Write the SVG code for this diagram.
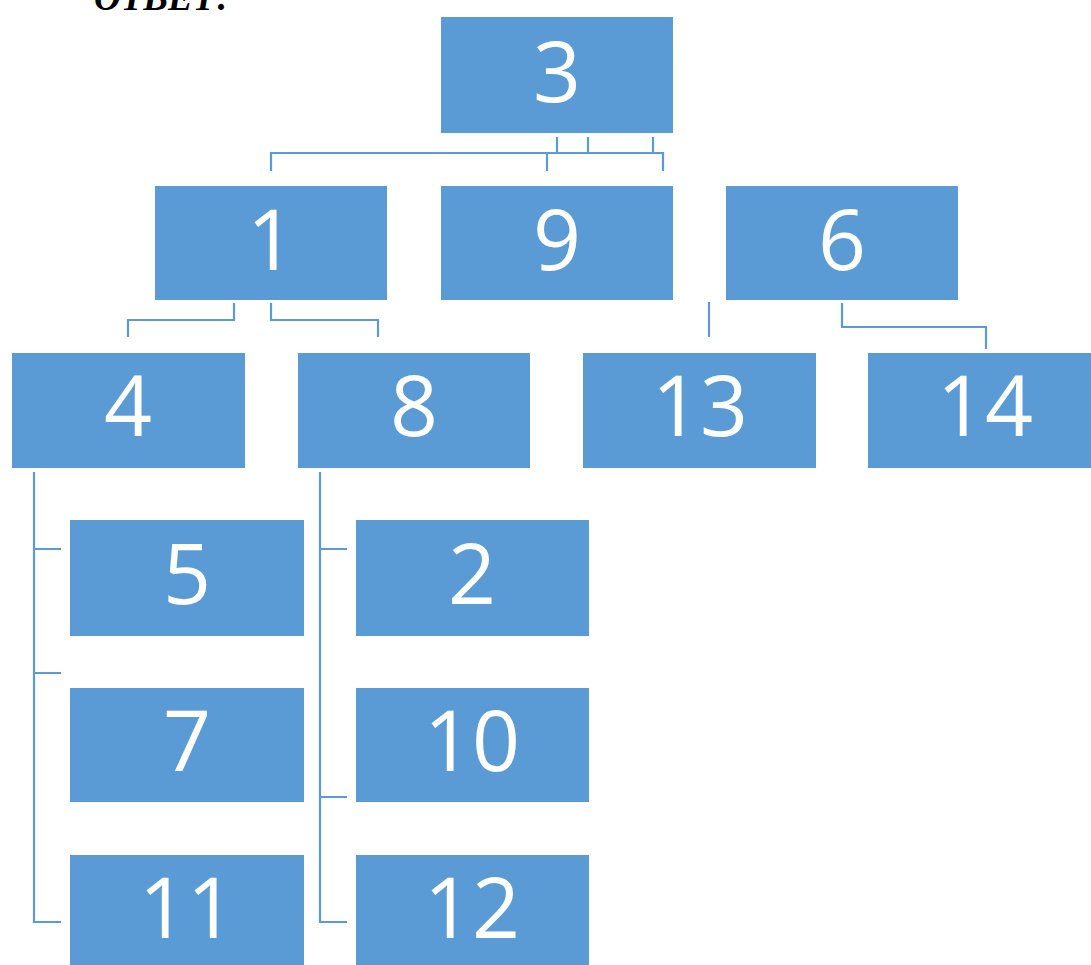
<svg xmlns="http://www.w3.org/2000/svg" width="1091" height="965" viewBox="0 0 1091 965">
<style>
.box{fill:#5b9bd5}
.lbl{fill:#fff;font-family:"Open Sans","Liberation Sans",sans-serif;font-size:84px;text-anchor:middle}
.con{fill:none;stroke:#5b9bd5;stroke-width:2.2}
.title{font-family:"Liberation Serif",serif;font-weight:bold;font-style:italic;font-size:37px;fill:#000}
</style>
<rect width="1091" height="965" fill="#fff"/>
<text class="title" x="94" y="10">ОТВЕТ:</text>
<g id="connectors">
<path class="con" d="M557 137V153M588 137V153M653 137V153M271 171V153H663V171M547 153V171"/>
<path class="con" d="M234 303V320H128V337M271 303V320H378V337"/>
<path class="con" d="M709 302V337M842 303V327H986V349"/>
<path class="con" d="M34 472V922H61M34 549H61M34 673H61"/>
<path class="con" d="M320 472V922H347M320 549H347M320 797H347"/>
</g>
<g id="n3"><rect class="box" x="441" y="17" width="232" height="116"/><text class="lbl" x="557" y="102">3</text></g>
<g id="n1"><rect class="box" x="155" y="186" width="232" height="114"/><text class="lbl" x="271" y="270">1</text></g>
<g id="n9"><rect class="box" x="441" y="186" width="232" height="114"/><text class="lbl" x="557" y="270">9</text></g>
<g id="n6"><rect class="box" x="726" y="186" width="232" height="114"/><text class="lbl" x="842" y="270">6</text></g>
<g id="n4"><rect class="box" x="12" y="353" width="233" height="115"/><text class="lbl" x="128" y="436">4</text></g>
<g id="n8"><rect class="box" x="298" y="353" width="232" height="115"/><text class="lbl" x="414" y="436">8</text></g>
<g id="n13"><rect class="box" x="583" y="353" width="233" height="115"/><text class="lbl" x="700" y="436">13</text></g>
<g id="n14"><rect class="box" x="868" y="353" width="230" height="115"/><text class="lbl" x="985" y="436">14</text></g>
<g id="n5"><rect class="box" x="70" y="520" width="234" height="116"/><text class="lbl" x="187" y="604">5</text></g>
<g id="n2"><rect class="box" x="356" y="520" width="233" height="116"/><text class="lbl" x="472" y="604">2</text></g>
<g id="n7"><rect class="box" x="70" y="688" width="234" height="114"/><text class="lbl" x="187" y="771">7</text></g>
<g id="n10"><rect class="box" x="356" y="688" width="233" height="114"/><text class="lbl" x="472" y="771">10</text></g>
<g id="n11"><rect class="box" x="70" y="855" width="234" height="115"/><text class="lbl" x="187" y="938">11</text></g>
<g id="n12"><rect class="box" x="356" y="855" width="233" height="115"/><text class="lbl" x="472" y="938">12</text></g>
</svg>
